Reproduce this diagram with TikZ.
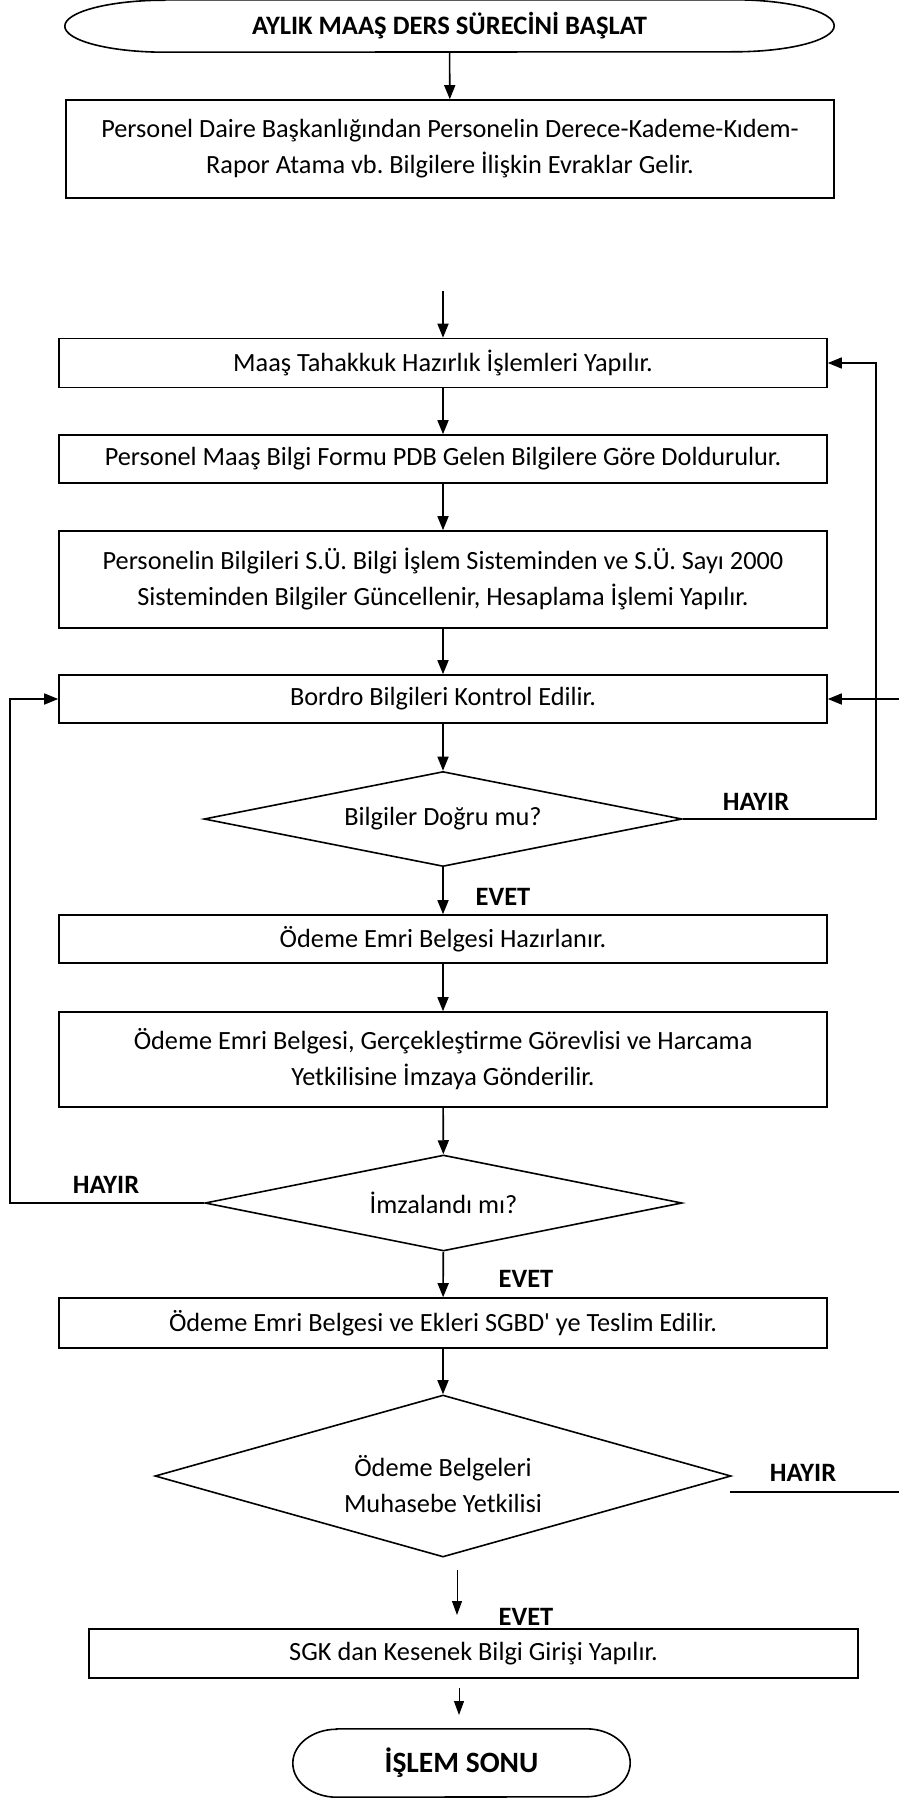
\documentclass[tikz,border=0pt]{standalone}
\usepackage{fontspec}
\setmainfont{Carlito}
\usetikzlibrary{shapes.geometric,arrows.meta}
\frenchspacing
\begin{document}
\begin{tikzpicture}[x=1pt,y=-1pt,
  txt/.style={font=\fontsize{26.3}{36}\selectfont},
  box/.style={txt,draw,line width=1.6pt,rectangle,inner sep=0pt,align=center,minimum width=768pt},
  decision/.style={txt,draw,line width=1.6pt,diamond,inner sep=0pt,align=center},
  terminal/.style={rectangle,inner sep=0pt,font=\fontsize{26.6}{30}\selectfont\bfseries},
  outline/.style={line width=1.6pt},
  lbl/.style={inner sep=0pt,font=\fontsize{26.5}{30}\selectfont\bfseries},
  arr/.style={line width=1.6pt,-{Triangle[length=14pt,width=11pt]}},
  thinarr/.style={line width=1pt,-{Triangle[length=14pt,width=10pt]}}
]
\useasboundingbox (0,0) rectangle (899,1798);
\fill[white] (0,0) rectangle (899,1798);
\clip (0,0) rectangle (899,1798);

% start terminal: long capsule with elliptic ends
\node[terminal,minimum width=769pt,minimum height=52pt] (start) at (449.5,26) {AYLIK MAAŞ DERS SÜRECİNİ BAŞLAT};
\draw[outline] ([xshift=100pt]start.north west) -- ([xshift=-100pt]start.north east)
  arc[start angle=90,end angle=-90,x radius=100pt,y radius=26pt]
  -- ([xshift=100pt]start.south west)
  arc[start angle=270,end angle=90,x radius=100pt,y radius=26pt] -- cycle;

% process boxes and decisions
\node[box,minimum height=98pt] (b1) at (450,149) {Personel Daire Başkanlığından Personelin Derece-Kademe-Kıdem-\\Rapor Atama vb. Bilgilere İlişkin Evraklar Gelir.};
\node[box,minimum height=49pt] (b2) at (443,363) {Maaş Tahakkuk Hazırlık İşlemleri Yapılır.};
\node[box,minimum height=48pt] (b3) at (443,459) {Personel Maaş Bilgi Formu PDB Gelen Bilgilere Göre Doldurulur.};
\node[box,minimum height=97pt] (b4) at (443,579.5) {Personelin Bilgileri S.Ü. Bilgi İşlem Sisteminden ve S.Ü. Sayı 2000\\Sisteminden Bilgiler Güncellenir, Hesaplama İşlemi Yapılır.};
\node[box,minimum height=48pt] (b5) at (443,699) {Bordro Bilgileri Kontrol Edilir.};
\node[decision,shape aspect=5,minimum width=478pt,minimum height=95pt] (d1) at (443,819) {Bilgiler Doğru mu?};
\node[box,minimum height=48pt] (b6) at (443,939) {Ödeme Emri Belgesi Hazırlanır.};
\node[box,minimum height=95pt] (b7) at (443,1059.5) {Ödeme Emri Belgesi, Gerçekleştirme Görevlisi ve Harcama\\Yetkilisine İmzaya Gönderilir.};
\node[decision,shape aspect=5,minimum width=477pt,minimum height=96pt] (d2) at (443.5,1203) {İmzalandı mı?};
\node[box,minimum height=50pt] (b8) at (443,1323) {Ödeme Emri Belgesi ve Ekleri SGBD\textquotesingle{} ye Teslim Edilir.};
\node[decision,shape aspect=3.5,minimum width=576pt,minimum height=162pt] (d3) at (443,1476) {};
\node[txt,align=center,inner sep=0pt] (d3t) at (443,1484) {Ödeme Belgeleri\\Muhasebe Yetkilisi};
\node[box,minimum width=769pt,minimum height=49pt] (b9) at (473.5,1653.5) {SGK dan Kesenek Bilgi Girişi Yapılır.};

% end terminal
\node[terminal,minimum width=337pt,minimum height=68pt,font=\fontsize{29.5}{32}\selectfont\bfseries] (end) at (461.5,1763) {İŞLEM SONU};
\draw[outline] ([xshift=44pt]end.north west) -- ([xshift=-44pt]end.north east)
  arc[start angle=90,end angle=-90,x radius=44pt,y radius=34pt]
  -- ([xshift=44pt]end.south west)
  arc[start angle=270,end angle=90,x radius=44pt,y radius=34pt] -- cycle;

% branch labels
\node[lbl] (no1) at (756,802) {HAYIR};
\node[lbl] (yes1) at (503,897) {EVET};
\node[lbl] (no2) at (106,1185) {HAYIR};
\node[lbl] (yes2) at (526,1279) {EVET};
\node[lbl] (no3) at (803,1473) {HAYIR};
\node[lbl] (yes3) at (526,1617) {EVET};

% loose ends of connectors
\coordinate (in2) at (443,291);
\coordinate (rx1) at (876,0);
\coordinate (lx) at (10,0);
\coordinate (h3) at (730,1492);
\coordinate (rx2) at (930,0);
\coordinate (e1) at (457,1570);
\coordinate (e2) at (457,1615);
\coordinate (f1) at (459,1688);
\coordinate (f2) at (459,1715);

% main flow
\draw[arr] (start) -- (b1);
\draw[arr] (in2) -- (b2.north);
\draw[arr] (b2) -- (b3);
\draw[arr] (b3) -- (b4);
\draw[arr] (b4) -- (b5);
\draw[arr] (b5) -- (d1);
\draw[arr] (d1) -- (b6);
\draw[arr] (b6) -- (b7);
\draw[arr] (b7) -- (d2);
\draw[arr] (d2) -- (b8);
\draw[arr] (b8) -- (d3);
\draw[thinarr] (e1) -- (e2);
\draw[thinarr] (f1) -- (f2);

% return loops
\draw[arr] (d1.east) -- (d1.east -| rx1) |- (b2.east);
\draw[arr] (d2.west) -- (d2.west -| lx) |- (b5.west);
\draw[arr] (h3) -- (h3 -| rx2) |- (b5.east);
\end{tikzpicture}
\end{document}
